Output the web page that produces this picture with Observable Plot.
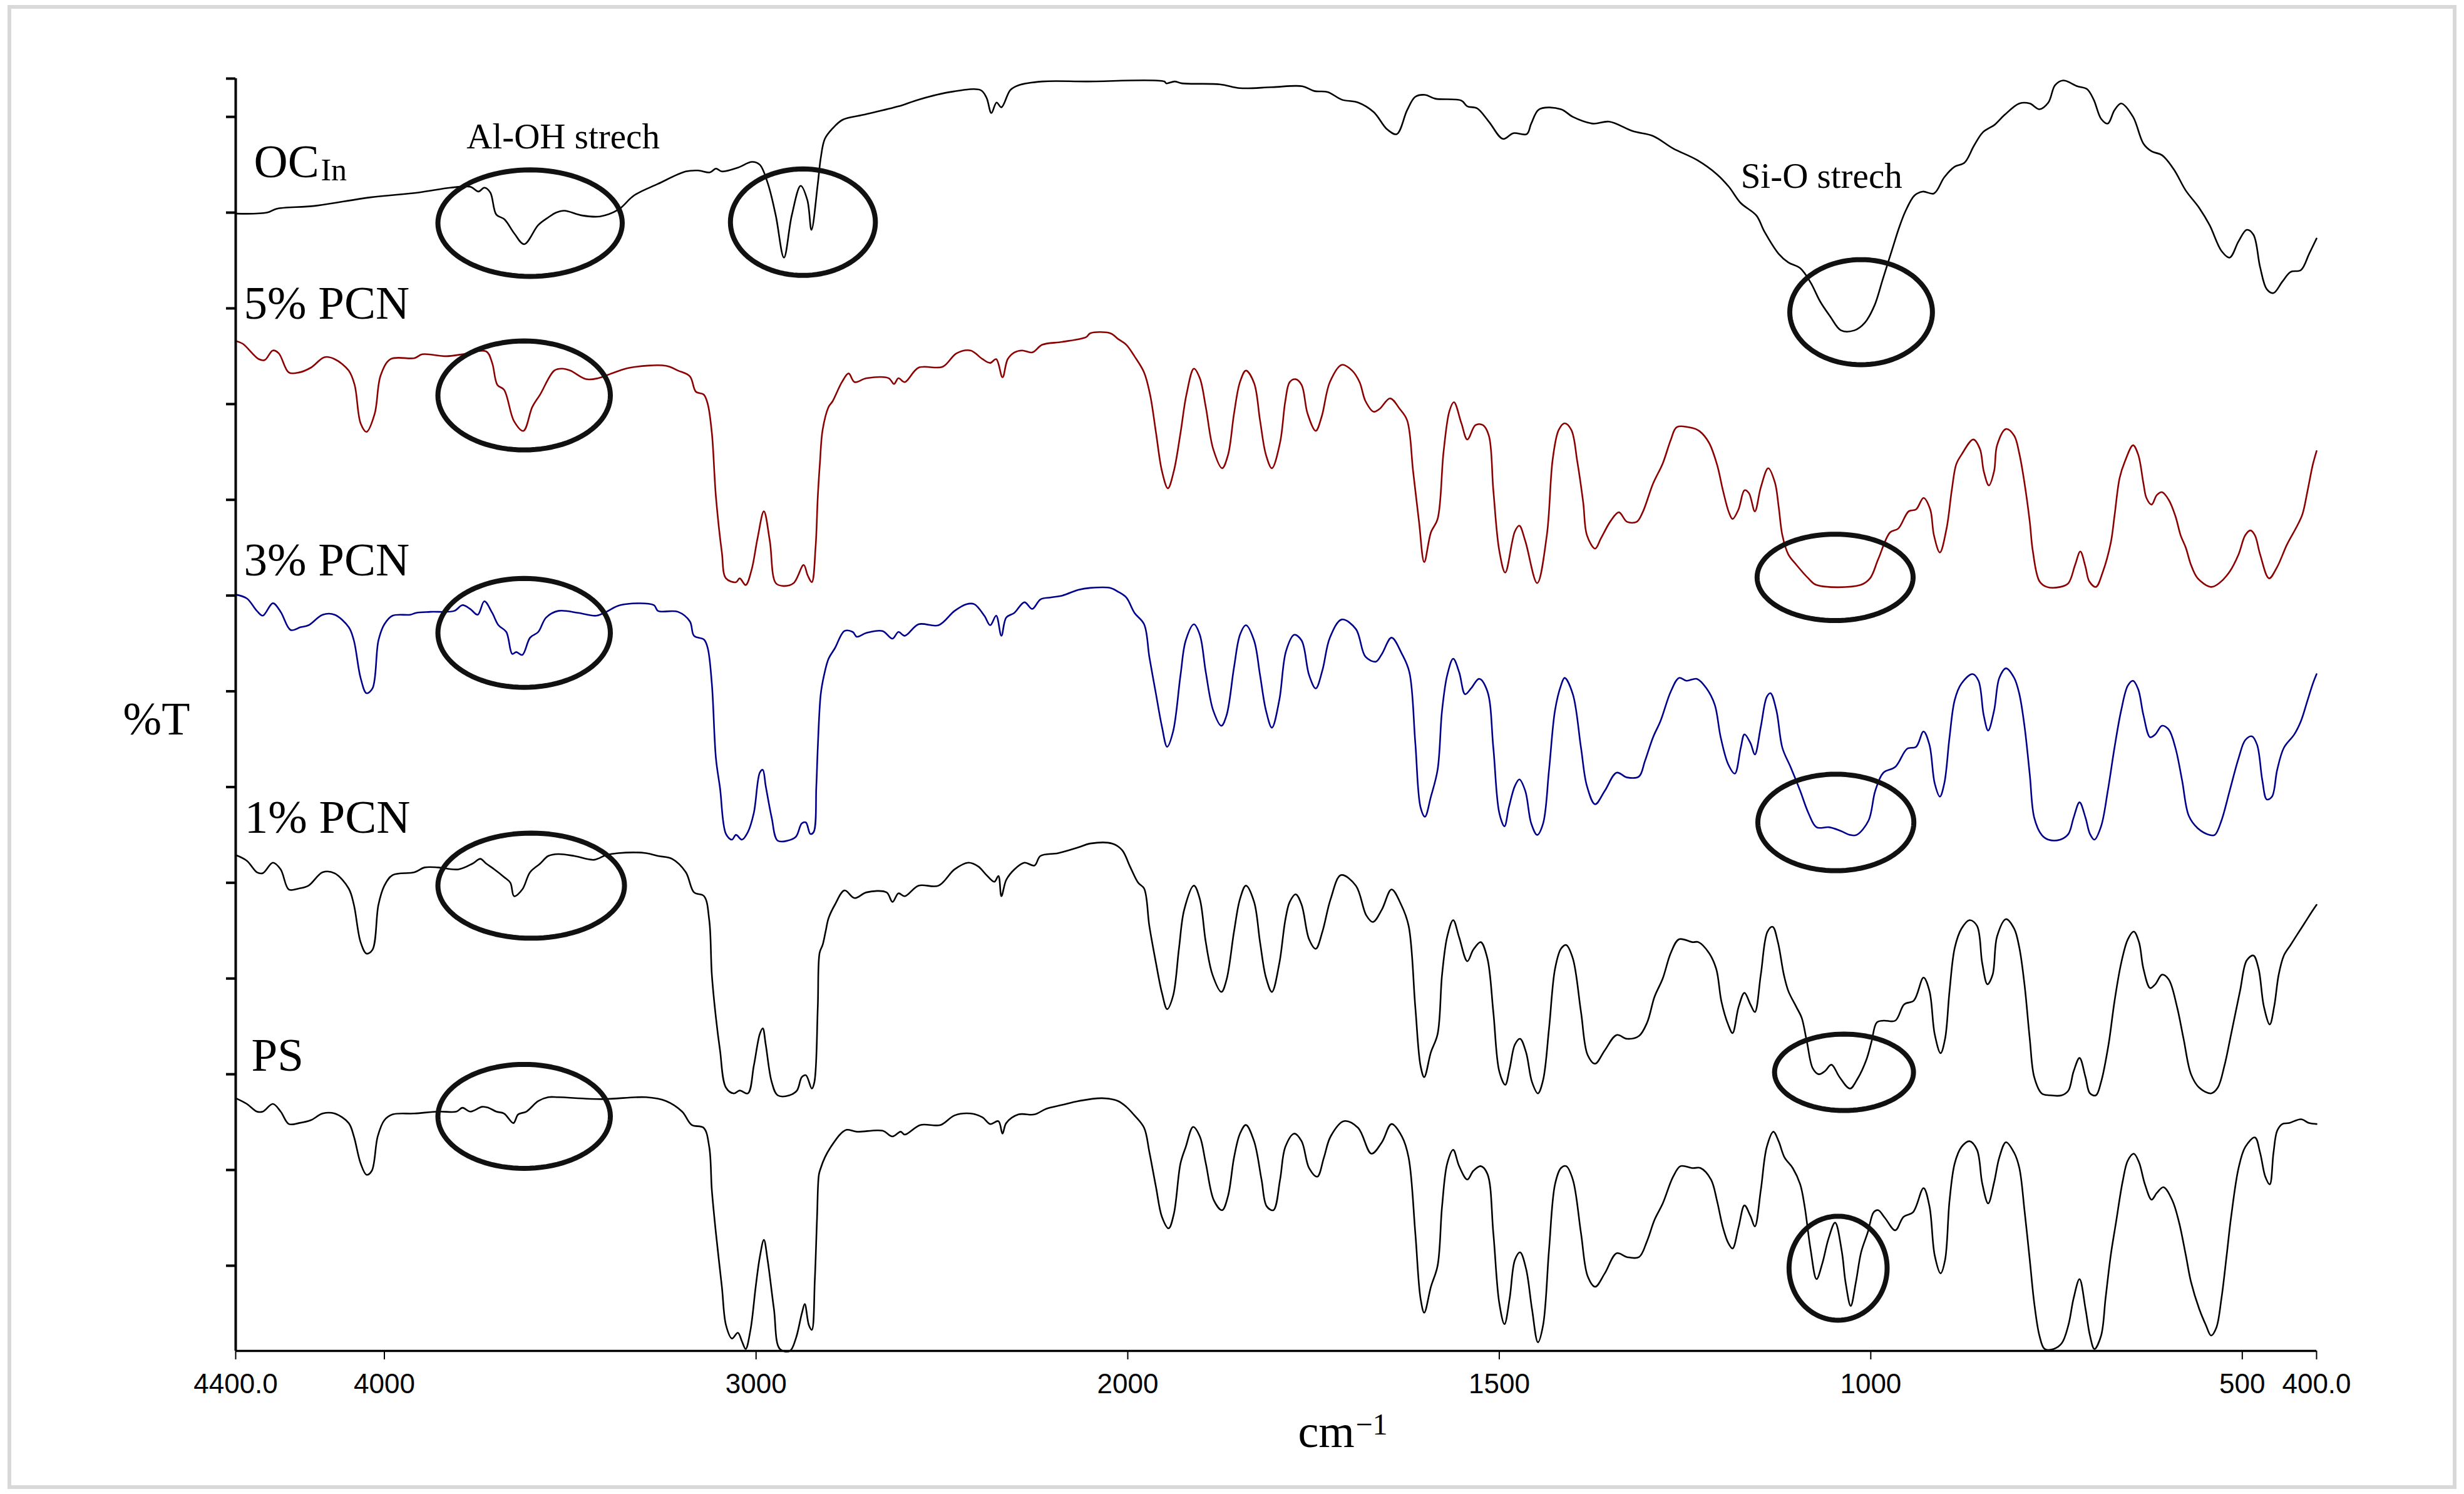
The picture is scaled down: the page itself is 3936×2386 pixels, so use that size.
<!DOCTYPE html>
<html><head><meta charset="utf-8">
<script src="https://cdn.jsdelivr.net/npm/d3@7"></script>
<script src="https://cdn.jsdelivr.net/npm/@observablehq/plot@0.6"></script>
<style>
html,body{margin:0;padding:0;background:#fff;}
#wrap{position:relative;width:3936px;height:2386px;overflow:hidden;background:#fff;}
#wrap svg{display:block;}
#border{position:absolute;left:12px;top:8px;right:12px;bottom:8px;border:6px solid #d9d9d9;pointer-events:none;}
</style></head>
<body><div id="wrap"><div id="border"></div></div>
<script>
// ---- axis definitions ----
const xDomain = [4400, 2000, 400];           // FTIR half-scale break at 2000 cm-1
const yDomain = [-8.9, 124];
const xTicks = [4400, 4000, 3000, 2000, 1500, 1000, 500, 400];
const xTickLabels = ["4400.0", "4000", "3000", "2000", "1500", "1000", "500", "400.0"];
const yTicks = [0, 10, 20, 30, 40, 50, 60, 70, 80, 90, 100, 110, 120, 124];

// ---- spectra: [wavenumber (cm-1), %T (offset, arbitrary units)] ----
const ocIn = [[4400,109.9],[4316,110.0],[4290,110.4],[4188,110.7],[4037,111.6],[3908,112.1],[3822,112.6],[3769,112.7],[3747,112.2],[3731,112.6],[3715,112.1],[3699,109.8],[3677,109.3],[3650,107.8],[3624,106.7],[3586,108.7],[3559,109.5],[3538,110],[3516,110.2],[3468,109.7],[3420,109.6],[3371,110.3],[3328,111.8],[3264,113],[3189,114.3],[3156,114.4],[3124,114.2],[3108,114.6],[3092,114.3],[3049,114.7],[3011,115.3],[2990,115],[2968,113],[2947,109.7],[2925,105.3],[2904,109.7],[2880,112.8],[2862,111.3],[2851,108.2],[2834,113],[2826,115.7],[2815,117.7],[2794,118.8],[2767,119.7],[2713,120.2],[2617,121.1],[2563,121.8],[2477,122.6],[2396,122.8],[2380,122],[2367,120.4],[2353,121.5],[2340,121],[2316,122.8],[2294,123.3],[2230,123.7],[2112,123.7],[1951,123.7],[1948,123.5],[1937,123.7],[1927,123.5],[1876,123.4],[1849,123],[1806,123.1],[1765,123.2],[1749,122.7],[1731,122.6],[1712,121.8],[1690,121.5],[1669,120.5],[1651,118.7],[1638,118.2],[1624,120.7],[1613,122.1],[1600,122.3],[1586,121.9],[1551,121.7],[1543,121.1],[1530,120.9],[1514,119.5],[1495,117.7],[1481,118.3],[1463,118.2],[1457,119.3],[1446,120.8],[1417,120.8],[1401,120],[1374,119.3],[1352,119.5],[1320,118.5],[1293,118],[1266,116.7],[1234,115.5],[1207,114],[1191,112.7],[1175,111],[1154,109.7],[1143,108],[1124,105.7],[1111,104.8],[1095,104.2],[1081,102.7],[1068,100.7],[1055,99.2],[1040,97.7],[1022,97.7],[1008,98.5],[995,100.3],[984,103],[971,106.2],[962,108.4],[953,110.2],[941,111.8],[930,112.2],[915,112],[901,113.7],[887,114.8],[874,115.2],[861,117],[849,118.4],[833,119.2],[820,120.2],[800,121.4],[786,121.4],[773,120.8],[761,121.5],[752,123.3],[741,123.8],[722,123.2],[709,122.9],[700,121.8],[690,119.8],[681,119.3],[672,120.7],[663,121.4],[647,120],[633,117.2],[622,116.4],[608,116],[592,114.5],[576,112.3],[558,110.5],[544,108.7],[528,106],[517,105.3],[505,107],[494,108.2],[485,107.7],[476,104.3],[467,102],[458,101.6],[446,102.8],[435,103.8],[421,104],[410,105.7],[400,107.3]];

const pcn5 = [[4400,96.6],[4381,96.3],[4338,94.7],[4322,94.6],[4300,95.6],[4284,95.3],[4257,93.3],[4230,93.3],[4198,93.8],[4161,94.9],[4134,94.7],[4096,93.5],[4080,92],[4064,88],[4048,87.1],[4026,89],[4010,93],[3983,94.7],[3919,94.8],[3898,95.2],[3833,95],[3790,95.2],[3726,95.5],[3710,94.3],[3696,92],[3678,91.5],[3651,88.2],[3626,87.2],[3602,89.7],[3581,91],[3543,93.5],[3522,93.7],[3500,93.5],[3457,92.6],[3425,92.7],[3382,93.3],[3339,93.8],[3242,94],[3210,93.5],[3178,92.9],[3162,91.3],[3141,91],[3130,90],[3119,87],[3108,80.3],[3092,74.5],[3081,71.8],[3054,71.4],[3044,71.8],[3028,71.1],[3012,72.7],[2996,76],[2979,78.8],[2963,75.7],[2947,71.3],[2926,71],[2899,71.3],[2872,73.2],[2861,72.1],[2850,71.4],[2840,75],[2834,80.3],[2828,84],[2821,87.3],[2805,89.7],[2794,90.3],[2769,92.3],[2751,93.2],[2735,92.3],[2703,92.7],[2643,92.7],[2629,92.1],[2617,92.7],[2600,92.3],[2563,93.8],[2498,93.9],[2461,95.3],[2423,95.6],[2391,94.7],[2370,94.3],[2354,94.7],[2337,92.8],[2323,94.7],[2305,95.4],[2284,95.6],[2257,95.4],[2230,96.2],[2176,96.5],[2112,97],[2101,97.4],[2047,97.4],[2026,96.8],[2004,96.2],[1991,95],[1978,93.3],[1970,91],[1962,87],[1954,83],[1946,81.2],[1938,83],[1929,87],[1921,91],[1911,93.7],[1903,92.7],[1895,89.7],[1885,85.3],[1873,83.3],[1865,84.7],[1857,89],[1849,92.3],[1841,93.5],[1830,92.2],[1822,88.3],[1814,84.7],[1806,83.3],[1795,86],[1788,90.3],[1782,92.3],[1774,92.6],[1766,92],[1758,89],[1747,87.2],[1739,88.7],[1728,92.3],[1712,94.1],[1698,93.5],[1688,92.3],[1680,90.3],[1669,89.2],[1661,89.5],[1647,90.6],[1634,89.5],[1624,88.3],[1616,83],[1608,77.7],[1601,73.5],[1592,76.6],[1583,78],[1575,85],[1567,89.3],[1561,90.2],[1551,88],[1543,86.3],[1532,87.8],[1522,87.8],[1514,86.7],[1508,81],[1500,74.7],[1492,72.4],[1479,76.7],[1473,77.3],[1465,75.7],[1449,71.3],[1436,76.3],[1428,84.3],[1420,87.3],[1412,88],[1403,87.3],[1395,84],[1387,79.7],[1382,76.3],[1371,74.9],[1363,76],[1350,77.8],[1339,78.7],[1328,77.7],[1315,77.7],[1307,78.7],[1293,81.7],[1280,83.8],[1269,86.3],[1261,87.6],[1240,87.5],[1231,87.2],[1218,86],[1207,83.7],[1199,81],[1191,78.7],[1186,78],[1178,79],[1170,81],[1164,80.7],[1156,78.8],[1148,81.3],[1138,83.3],[1129,81.8],[1124,79.3],[1119,76.3],[1111,74.3],[1100,73.2],[1084,71.8],[1073,71.1],[1014,71.1],[1001,71.8],[990,73.8],[974,76.6],[963,77],[949,78.8],[939,79],[929,80.2],[920,79],[915,76.3],[907,74.5],[898,77],[891,81],[885,83.7],[878,84.7],[862,86.3],[853,85.3],[848,83],[841,81.5],[834,83],[830,85.7],[818,87.4],[807,86.7],[800,84.8],[793,81.7],[786,77.7],[782,74.7],[773,71.5],[763,70.9],[745,70.9],[734,71.3],[725,73.2],[718,74.6],[711,73],[706,71.5],[697,70.9],[688,72.4],[677,75.5],[672,78.3],[665,82.3],[658,84],[647,85.7],[640,84.7],[633,81.7],[629,80.2],[622,79.5],[615,80.5],[608,80.8],[599,80],[590,78.3],[583,76.3],[576,75],[569,73.2],[560,71.8],[542,70.9],[531,71.3],[517,72.5],[505,74.3],[496,76.3],[489,76.8],[483,76.3],[476,74.3],[464,71.8],[453,73],[440,75.3],[426,77.3],[419,78.5],[412,81],[405,83.7],[400,85.1]];

const pcn3 = [[4400,70.1],[4370,69.7],[4343,68.4],[4327,67.9],[4300,69.2],[4279,68.3],[4252,66.4],[4225,66.7],[4204,66.9],[4166,68],[4134,68],[4096,66.7],[4082,65.3],[4064,61.4],[4048,59.8],[4032,60.3],[4016,65.3],[4000,67],[3978,67.9],[3930,68],[3914,68.2],[3876,68.3],[3812,68.4],[3790,69],[3769,68.6],[3749,68],[3731,69.4],[3710,68.2],[3693,66.9],[3672,66.2],[3656,63.9],[3645,64.1],[3629,63.8],[3608,65.6],[3586,66.2],[3565,67.7],[3532,68.4],[3479,68.2],[3430,67.9],[3403,68.3],[3366,69],[3275,69],[3264,68.4],[3210,68.3],[3178,67.3],[3167,65.8],[3140,65.4],[3130,64.5],[3119,60.8],[3108,53],[3097,49.9],[3081,45.1],[3065,44.5],[3054,45],[3038,44.5],[3022,45.3],[3006,47.3],[2990,51.5],[2982,51.8],[2974,50.1],[2958,46.8],[2942,44.4],[2915,44.4],[2893,44.8],[2877,46.2],[2866,46.3],[2854,45.1],[2845,45.3],[2838,50],[2834,54.1],[2826,59.7],[2817,61.7],[2805,63.4],[2788,64.5],[2762,66.3],[2740,66.2],[2729,65.7],[2703,66.1],[2660,66.3],[2633,65.5],[2617,66.2],[2600,65.8],[2563,67],[2509,66.9],[2466,68.4],[2434,69.1],[2413,69.1],[2386,67.9],[2370,66.9],[2354,67.9],[2340,65.8],[2327,67.7],[2305,68.2],[2278,69.3],[2257,68.6],[2235,69.6],[2208,69.8],[2176,70],[2133,70.6],[2101,70.8],[2047,70.8],[2026,70.4],[2004,69.8],[1991,68.2],[1978,67],[1971,63.6],[1962,59.7],[1954,56.3],[1947,54.2],[1939,55.8],[1929,61.7],[1922,65.3],[1911,67],[1903,65.9],[1895,62],[1885,58],[1874,56.4],[1867,57.5],[1857,62.5],[1849,65.9],[1841,66.9],[1830,65.3],[1822,61.7],[1814,58],[1806,56.2],[1796,59.1],[1787,64.2],[1776,65.9],[1766,65.3],[1756,61.7],[1747,60.3],[1738,62.2],[1728,65.6],[1712,67.5],[1693,66.5],[1680,63.6],[1666,63.1],[1658,63.9],[1645,65.6],[1631,63.9],[1621,62],[1613,54.6],[1606,47.9],[1600,46.9],[1592,49],[1583,51.8],[1577,58],[1570,61.7],[1562,63.4],[1554,62],[1546,59.7],[1538,60.3],[1527,61.3],[1516,60],[1508,54.1],[1500,47.3],[1493,45.9],[1487,47.9],[1479,50.1],[1473,50.8],[1465,49.6],[1457,46.2],[1449,45],[1441,46.2],[1433,51.8],[1425,58],[1417,60.6],[1412,61.4],[1401,59.7],[1390,54.1],[1382,50.1],[1371,48.2],[1358,49.6],[1342,51.5],[1328,51],[1312,51.1],[1304,52.7],[1293,55.2],[1283,56.9],[1269,60],[1258,61.4],[1248,61.1],[1234,61.3],[1221,60.3],[1210,58.6],[1202,55.2],[1192,52.4],[1183,51.4],[1175,54.1],[1170,55.5],[1162,54.6],[1156,53.4],[1148,56.3],[1140,59.4],[1135,59.8],[1127,58],[1119,54.1],[1108,52.1],[1095,49.6],[1084,47.3],[1073,45.8],[1056,45.8],[1040,45.4],[1028,45],[1019,45],[1003,46.5],[994,49.6],[983,51.5],[967,52.1],[951,54],[939,54.2],[929,55.8],[921,54.4],[914,50.4],[907,49],[901,50.4],[894,55.2],[887,59.1],[878,60.8],[863,61.8],[855,61.1],[848,57.5],[842,55.9],[834,58],[827,61.4],[818,62.4],[807,61.4],[800,59.7],[793,56.3],[786,51.3],[780,46.8],[770,45],[761,44.5],[745,44.5],[734,45.1],[727,46.8],[719,48.4],[711,46.8],[705,45.1],[699,44.5],[690,45.9],[681,49.6],[672,54.1],[663,58],[654,60.6],[647,61.1],[640,60.2],[633,57.5],[624,55.2],[617,55.5],[608,56.4],[599,56],[590,54.1],[581,50.7],[572,47],[560,45.7],[544,45],[537,45],[528,46.5],[517,49.6],[505,53],[496,54.9],[487,55.3],[480,54.4],[473,50.7],[467,48.7],[460,49],[453,51.8],[444,54.1],[430,55.5],[421,56.9],[412,59.1],[405,60.8],[400,61.8]];

const pcn1 = [[4400,42.9],[4370,42.3],[4343,41.1],[4327,41],[4300,42.1],[4279,41.4],[4257,39.3],[4230,39.4],[4204,39.7],[4166,41.1],[4134,41],[4096,39.4],[4082,37.7],[4064,33.8],[4048,32.6],[4032,33],[4016,37.7],[4000,39.7],[3978,40.8],[3919,41.1],[3892,41.6],[3855,41.6],[3801,41.4],[3763,42],[3742,42.5],[3726,42],[3704,41.4],[3678,40.6],[3661,40],[3651,38.6],[3629,39.3],[3608,41.1],[3581,42],[3559,42.8],[3532,43],[3489,42.8],[3436,42.4],[3403,42.9],[3371,43.1],[3296,43.1],[3264,42.8],[3226,42.5],[3189,41.1],[3167,39],[3140,38.6],[3126,36.1],[3119,30.4],[3108,25.9],[3097,22.5],[3081,18.6],[3060,18],[3044,18.3],[3022,18],[3006,20.9],[2990,24.2],[2982,24.8],[2974,23.1],[2958,19.2],[2942,17.8],[2910,17.8],[2890,18.3],[2877,19.7],[2866,19.9],[2850,18.5],[2843,19.2],[2834,27],[2829,32.7],[2821,33.5],[2813,34.9],[2805,36.3],[2788,37.7],[2762,39.2],[2735,38.4],[2703,39],[2649,39],[2633,38],[2617,38.9],[2600,38.6],[2563,39.7],[2509,39.7],[2466,41.4],[2429,42.1],[2402,41.7],[2380,40.8],[2359,40.1],[2348,40.7],[2340,38.6],[2327,40.3],[2305,41.4],[2278,42.1],[2251,41.8],[2235,42.8],[2187,43.1],[2133,43.7],[2101,44.1],[2042,44.1],[2015,43.4],[1997,41.7],[1986,40],[1978,39.4],[1971,35.5],[1962,31.6],[1954,28.5],[1947,26.8],[1939,28.2],[1931,33.2],[1924,37.2],[1911,39.7],[1903,38.3],[1895,33.8],[1886,30.4],[1874,28.6],[1867,29.9],[1857,34.9],[1849,38.3],[1841,39.7],[1830,38],[1822,33.8],[1814,30.1],[1806,28.6],[1796,31.6],[1788,36.1],[1782,38],[1774,38.8],[1766,37.7],[1756,34.1],[1747,33.1],[1738,34.9],[1727,38.3],[1713,40.8],[1693,39.7],[1679,36.6],[1670,35.9],[1658,37.2],[1645,39.3],[1632,37.7],[1622,35.5],[1613,27],[1606,20.9],[1601,19.7],[1592,22.3],[1583,24.2],[1577,30.4],[1570,34.4],[1562,36.1],[1554,34.3],[1543,31.8],[1535,33],[1525,33.8],[1516,32.1],[1508,26.5],[1500,20.3],[1492,18.9],[1486,20.6],[1479,23.1],[1472,23.7],[1464,22.3],[1456,19.2],[1448,18],[1441,19.4],[1433,24.8],[1425,31],[1417,33.1],[1410,33.5],[1401,32.1],[1390,26.5],[1381,22],[1371,21.1],[1358,22.5],[1342,24.1],[1328,23.7],[1312,24],[1301,25.4],[1291,28.1],[1280,30],[1269,32.7],[1258,34.1],[1240,33.8],[1232,33.8],[1218,32.7],[1208,31],[1201,27.6],[1192,25.2],[1186,24.3],[1178,27],[1170,28.5],[1162,27.3],[1156,26.5],[1148,30.4],[1139,34.9],[1132,35.4],[1125,33.8],[1117,30.4],[1111,28.7],[1100,27],[1093,25.9],[1086,23.4],[1078,20.6],[1070,20],[1062,20.3],[1053,21],[1042,19.7],[1028,18.5],[1018,19.5],[1006,21.5],[999,23.4],[992,25.4],[983,25.6],[967,25.6],[955,27.3],[942,27.7],[929,30.1],[921,28.7],[914,24.2],[906,22.2],[900,23.7],[894,28.7],[887,33.2],[878,35.2],[867,36.1],[857,35.5],[850,31.6],[843,29.4],[836,30.4],[830,34.4],[818,36.2],[807,35.2],[800,33.2],[793,29.3],[786,23.7],[780,19.7],[770,18],[759,17.8],[743,17.8],[734,18.3],[727,20.3],[719,21.7],[711,19.7],[705,18],[697,17.8],[690,19.2],[680,23.1],[672,27.6],[663,31.6],[654,34.1],[646,34.9],[639,33.8],[633,31],[624,29],[617,29.4],[608,30.4],[599,29.9],[588,27.1],[579,23.7],[569,20],[558,18.6],[542,18],[533,18.6],[524,20.9],[515,24.2],[503,28.7],[494,31.9],[485,32.4],[478,31],[471,27.1],[463,25.2],[457,27.1],[451,30.4],[444,32.4],[435,33.5],[426,34.6],[416,35.8],[407,36.9],[400,37.7]];

const ps = [[4400,17.5],[4370,16.9],[4343,16.1],[4327,16.1],[4300,16.9],[4279,16.1],[4257,14.8],[4230,14.9],[4198,15.2],[4166,15.9],[4134,15.9],[4096,14.9],[4082,13.5],[4064,10.7],[4048,9.5],[4034,9.9],[4018,13.5],[4000,15.2],[3978,15.8],[3919,15.9],[3855,16.1],[3806,16.1],[3790,16.5],[3769,16.1],[3737,16.6],[3720,16.5],[3699,16.1],[3678,15.9],[3653,14.9],[3640,15.8],[3618,16.1],[3586,17.2],[3559,17.6],[3532,17.6],[3414,17.4],[3296,17.6],[3242,17.2],[3199,16.1],[3173,14.7],[3141,14.4],[3126,12.4],[3119,7.9],[3108,3.4],[3092,-2.2],[3081,-6.2],[3065,-7.6],[3049,-7],[3038,-7.9],[3028,-8.7],[3015,-6.7],[3001,-2.2],[2990,0.9],[2979,2.7],[2969,0.6],[2952,-4.5],[2936,-8.7],[2909,-8.9],[2893,-7.6],[2877,-5],[2869,-4],[2858,-6.2],[2850,-6.7],[2842,-1.5],[2836,5],[2831,9.5],[2826,10.2],[2815,11.3],[2799,12.4],[2772,13.8],[2756,14.2],[2729,14],[2660,14.1],[2633,13.5],[2611,14],[2600,13.7],[2558,14.7],[2504,14.7],[2466,15.7],[2423,15.9],[2391,15.5],[2370,14.8],[2348,15.1],[2337,13.8],[2327,14.9],[2294,15.8],[2251,15.8],[2219,16.4],[2176,16.8],[2133,17.2],[2069,17.5],[2026,17.2],[2004,16.6],[1991,15.7],[1978,14.4],[1971,11.9],[1962,8.2],[1954,5.1],[1945,3.9],[1938,5.4],[1929,10.7],[1922,12.4],[1912,14.5],[1903,13.5],[1895,10.7],[1884,6.8],[1873,5.8],[1865,7.3],[1857,11.3],[1849,13.8],[1841,14.7],[1830,13],[1820,9],[1813,6.2],[1804,5.8],[1795,9],[1788,12.4],[1776,13.8],[1766,13],[1756,10.2],[1745,9.3],[1736,11.3],[1727,13.5],[1709,15.1],[1690,14.4],[1672,11.7],[1658,12.9],[1645,14.8],[1631,13.5],[1622,11.3],[1613,3.4],[1606,-3.4],[1601,-4.9],[1592,-2.2],[1583,0],[1577,6.2],[1570,10.7],[1562,12.1],[1554,10.4],[1543,9],[1535,9.9],[1525,10.4],[1516,9.6],[1508,3.4],[1500,-3.9],[1493,-6.1],[1486,-3.4],[1479,0.6],[1472,1.4],[1464,-0.3],[1456,-4.5],[1448,-8],[1441,-6.2],[1433,1.7],[1425,8.5],[1417,10.2],[1410,10.4],[1401,9],[1390,3.4],[1381,-1.1],[1371,-2.2],[1358,-0.8],[1342,1.3],[1328,0.9],[1312,0.9],[1301,2.6],[1291,4.8],[1280,6.5],[1266,9.3],[1256,10.4],[1240,10.2],[1229,10.2],[1215,9],[1207,6.8],[1199,4],[1192,2.4],[1186,1.8],[1178,4],[1170,6.3],[1162,5.2],[1156,4.1],[1148,7.9],[1140,12.4],[1131,14],[1124,13],[1116,11.3],[1105,10.2],[1095,8.5],[1089,6.2],[1081,1.7],[1073,-1.4],[1065,0.3],[1057,2.8],[1048,4.5],[1039,1.5],[1034,-1.7],[1027,-4.2],[1020,-1.7],[1013,1.4],[1004,3.5],[996,5.6],[990,5.8],[981,5],[967,3.7],[956,5.1],[943,5.6],[929,8.1],[921,6.2],[914,1.1],[906,-0.8],[900,0.6],[894,6.8],[887,10.7],[878,12.4],[867,13],[857,12.1],[850,8.6],[842,6.5],[834,8.7],[827,11.3],[818,12.9],[807,11.8],[800,10.2],[793,5.7],[786,0.6],[780,-3.9],[773,-7.3],[766,-8.7],[754,-8.7],[743,-8.1],[734,-6.2],[727,-3.4],[719,-1.4],[711,-4.5],[705,-7.3],[699,-8.7],[690,-7.3],[684,-3.4],[677,1.1],[670,4.5],[661,8.8],[654,11],[646,11.7],[639,10.8],[631,8.5],[622,6.9],[615,7.6],[606,8.2],[594,6.8],[585,4.5],[576,1.1],[569,-1.7],[558,-4.5],[549,-6.2],[542,-7.3],[535,-6.5],[528,-3.4],[521,1.1],[515,5.1],[505,10.2],[496,12.4],[483,13.4],[476,11.8],[469,9.3],[463,8.5],[458,11.8],[453,14.1],[446,14.8],[437,14.9],[421,15.3],[410,14.9],[400,14.8]];

// ---- labels & annotations (anchor in data units) ----
const traceLabels = [
  {text: "OC", x: 4351, y: 113.7},
  {text: "5% PCN", x: 4378, y: 98.9},
  {text: "3% PCN", x: 4378, y: 72.1},
  {text: "1% PCN", x: 4376, y: 45.2},
  {text: "PS", x: 4358, y: 20.4}
];
const subLabels = [{text: "In", x: 4171, y: 113.4}];
const bandNotes = [
  {text: "Al-OH strech", x: 3779, y: 116.7},
  {text: "Si-O strech", x: 1175, y: 112.6}
];
// highlight ellipses: centre (cm-1, %T) and semi-axes in the same units
const ellipses = [
  {x: 3608, y: 108.9, rx: 248, ry: 5.56},
  {x: 2874, y: 109.0, rx: 195, ry: 5.56},
  {x: 1013, y: 99.6,  rx: 96,  ry: 5.49},
  {x: 3624, y: 90.9,  rx: 232, ry: 5.69},
  {x: 1048, y: 71.9,  rx: 105, ry: 4.51},
  {x: 3624, y: 66.1,  rx: 232, ry: 5.69},
  {x: 1047, y: 46.3,  rx: 105, ry: 5.04},
  {x: 3605, y: 39.7,  rx: 251, ry: 5.49},
  {x: 1036, y: 20.2,  rx: 93.5, ry: 3.99},
  {x: 3624, y: 15.6,  rx: 232, ry: 5.43},
  {x: 1044, y: -0.26, rx: 66,  ry: 5.43}
];

const series = [
  {data: ocIn, color: "#000000"},
  {data: pcn5, color: "#8b0000"},
  {data: pcn3, color: "#00008b"},
  {data: pcn1, color: "#000000"},
  {data: ps,   color: "#000000"}
];

const ellipsePts = ellipses.flatMap((e, i) =>
  d3.range(0, 97).map(k => {
    const t = k / 96 * 2 * Math.PI;
    return {i, x: e.x + e.rx * Math.cos(t), y: e.y + e.ry * Math.sin(t)};
  }));

const serif = "'Liberation Serif', 'Times New Roman', Times, serif";
const sans = "'Liberation Sans', Arial, sans-serif";

const chart = Plot.plot({
  width: 3936,
  height: 2386,
  marginLeft: 376,
  marginRight: 236,
  marginTop: 125,
  marginBottom: 229,
  style: {background: "#fff"},
  x: {type: "linear", domain: xDomain, range: [376, 1801, 3700]},
  y: {type: "linear", domain: yDomain, range: [2157, 125]},
  marks: [
    ...series.map(s => Plot.line(s.data, {x: d => d[0], y: d => d[1], stroke: s.color, strokeWidth: 2.6, curve: "catmull-rom"})),
    Plot.line(ellipsePts, {x: "x", y: "y", z: "i", stroke: "#111", strokeWidth: 8, curve: "linear"}),
    Plot.axisX({ticks: xTicks, tickFormat: d => xTickLabels[xTicks.indexOf(d)], tickSize: 14, tickPadding: 22, fontSize: 44, fontFamily: sans, strokeWidth: 2, label: null}),
    Plot.axisY({ticks: yTicks, tickFormat: () => "", tickSize: 15, strokeWidth: 4, label: null}),
    Plot.ruleY([yDomain[0]], {stroke: "#000", strokeWidth: 3.5}),
    Plot.ruleX([xDomain[0]], {stroke: "#000", strokeWidth: 4}),
    Plot.text(traceLabels, {x: "x", y: "y", text: "text", textAnchor: "start", lineAnchor: "bottom", fontSize: 75, fontFamily: serif, fill: "#000"}),
    Plot.text(subLabels, {x: "x", y: "y", text: "text", textAnchor: "start", lineAnchor: "bottom", fontSize: 50, fontFamily: serif, fill: "#000"}),
    Plot.text(bandNotes, {x: "x", y: "y", text: "text", textAnchor: "start", lineAnchor: "bottom", fontSize: 57, fontFamily: serif, fill: "#000"}),
    Plot.text(["%T"], {text: d => d, frameAnchor: "left", dx: -180, dy: 8, textAnchor: "start", lineAnchor: "middle", fontSize: 74, fontFamily: serif, fill: "#000"}),
    Plot.text(["cm"], {text: d => d, frameAnchor: "bottom", dx: 35, dy: 153, textAnchor: "start", lineAnchor: "bottom", fontSize: 74, fontFamily: serif, fill: "#000"}),
    Plot.text(["\u22121"], {text: d => d, frameAnchor: "bottom", dx: 127, dy: 133, textAnchor: "start", lineAnchor: "bottom", fontSize: 48, fontFamily: serif, fill: "#000"})
  ]
});
document.getElementById("wrap").prepend(chart);
</script>
</body></html>
